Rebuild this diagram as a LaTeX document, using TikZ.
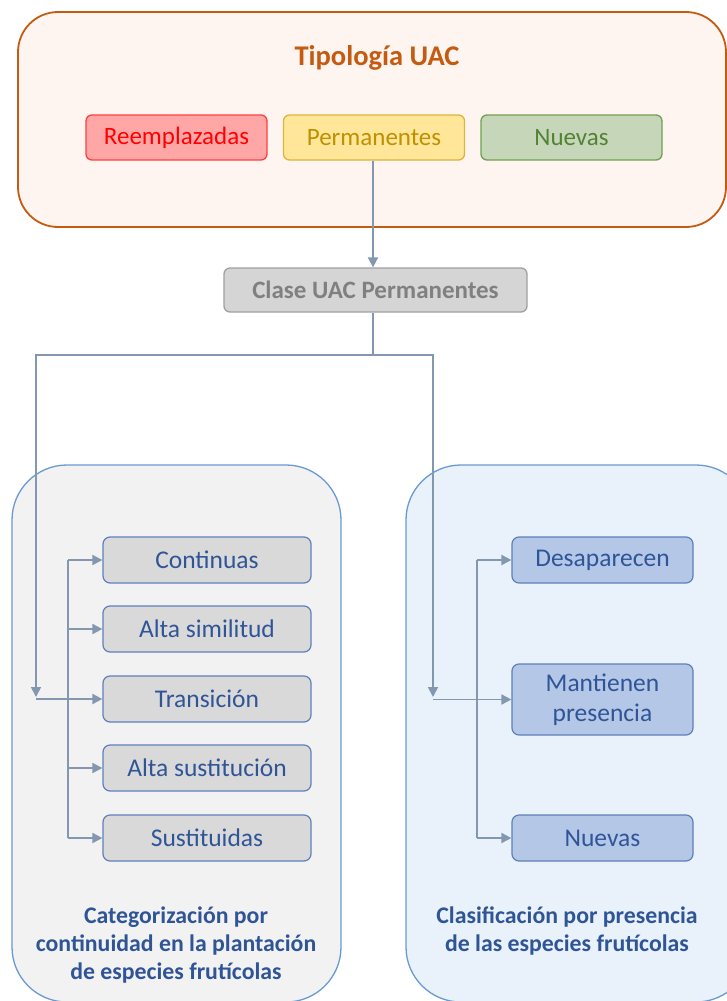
\documentclass[tikz,border=0pt]{standalone}
\usepackage{fontspec}
\setmainfont{Carlito}
\usetikzlibrary{arrows.meta}
\definecolor{topfill}{HTML}{FEF4F0}
\definecolor{topline}{HTML}{C55A11}
\definecolor{reemfill}{HTML}{FFA7A7}
\definecolor{reemline}{HTML}{FF4040}
\definecolor{reemtext}{HTML}{FF0000}
\definecolor{permfill}{HTML}{FFE699}
\definecolor{permline}{HTML}{DDB53A}
\definecolor{permtext}{HTML}{BF9000}
\definecolor{nuevfill}{HTML}{C6D6B9}
\definecolor{nuevline}{HTML}{72A052}
\definecolor{nuevtext}{HTML}{548235}
\definecolor{clasefill}{HTML}{D6D5D5}
\definecolor{claseline}{HTML}{A0A0A0}
\definecolor{clasetext}{HTML}{808080}
\definecolor{leftfill}{HTML}{F2F2F2}
\definecolor{rightfill}{HTML}{E9F1FA}
\definecolor{contline}{HTML}{6A9AD2}
\definecolor{litemfill}{HTML}{D9D9D9}
\definecolor{ritemfill}{HTML}{B4C7E7}
\definecolor{itemline}{HTML}{5F80BA}
\definecolor{itemtext}{HTML}{2F5597}
\definecolor{conncol}{HTML}{8497B0}
\begin{document}
\begin{tikzpicture}[x=1pt,y=-1pt,
  container/.style={draw=contline, line width=1.3pt, rounded corners=55pt, inner sep=0pt},
  typebox/.style={line width=1.3pt, rounded corners=6pt, minimum width=181pt, minimum height=45pt, inner sep=0pt, font=\fontsize{25}{29}\selectfont},
  item/.style={draw=itemline, line width=1.2pt, rounded corners=7pt, minimum height=46pt, inner sep=0pt, align=center, text=itemtext, font=\fontsize{25.5}{30}\selectfont},
  litem/.style={item, fill=litemfill, minimum width=208pt},
  ritem/.style={item, fill=ritemfill, minimum width=181pt},
  caption/.style={align=center, text=itemtext, font=\bfseries\fontsize{23.8}{28}\selectfont},
  conn/.style={draw=conncol, line width=1.8pt},
  arr/.style={conn, -{Triangle[length=10pt,width=10pt]}}]
\useasboundingbox (0,0) rectangle (727,1001);
% top group
\node[draw=topline, fill=topfill, line width=1.8pt, rounded corners=40pt, minimum width=708pt, minimum height=215pt, inner sep=0pt] (top) at (372,119.5) {};
\node[text=topline, font=\bfseries\fontsize{28.5}{32}\selectfont] (title) at (377,58) {Tipología UAC};
\node[typebox, draw=reemline, fill=reemfill, text=reemtext] (reem) at (176.5,137.5) {Reemplazadas};
\node[typebox, draw=permline, fill=permfill, text=permtext] (perm) at (374,137.5) {Permanentes};
\node[typebox, draw=nuevline, fill=nuevfill, text=nuevtext] (nuev) at (571.5,137.5) {Nuevas};
% class
\node[draw=claseline, fill=clasefill, line width=1.3pt, rounded corners=6pt, minimum width=303pt, minimum height=44pt, inner sep=0pt, text=clasetext, font=\bfseries\fontsize{25}{29}\selectfont] (clase) at (375.5,290) {Clase UAC Permanentes};
% containers
\node[container, fill=leftfill, minimum width=329pt, minimum height=537pt] (lcont) at (176.5,733.5) {};
\node[container, fill=rightfill, minimum width=345pt, minimum height=537pt] (rcont) at (578.5,733.5) {};
% left items
\node[litem] (cont) at (207,560) {Continuas};
\node[litem] (alsim) at (207,629) {Alta similitud};
\node[litem] (trans) at (207,699) {Transición};
\node[litem] (alsus) at (207,768) {Alta sustitución};
\node[litem] (sust) at (207,838) {Sustituidas};
% right items
\node[ritem] (desap) at (602.5,560) {Desaparecen};
\node[ritem, minimum height=71pt] (mant) at (602.5,699.5) {Mantienen\\presencia};
\node[ritem] (nuevb) at (602.5,838) {Nuevas};
% captions
\node[caption] (lcap) at (176,945) {Categorización por\\continuidad en la plantación\\de especies frutícolas};
\node[caption] (rcap) at (567,931) {Clasificación por presencia\\de las especies frutícolas};
% connectors
\coordinate (J) at (373,355);
\coordinate (L) at (36,697);
\coordinate (R) at (433,697);
\coordinate (lbt) at (68,560);
\coordinate (lbb) at (68,838);
\coordinate (rbt) at (477,560);
\coordinate (rbb) at (477,838);
\draw[arr] (perm.south -| J) -- (clase.north -| J);
\draw[conn] (clase.south -| J) -- (J);
\draw[arr] (J) -| (L);
\draw[arr] (J) -| (R);
\draw[conn] (lbt) -- (lbb);
\draw[arr] (lbt) -- (cont.west);
\draw[arr] (lbt |- alsim.west) -- (alsim.west);
\draw[arr] (L |- trans.west) -- (trans.west);
\draw[arr] (lbt |- alsus.west) -- (alsus.west);
\draw[arr] (lbb) -- (sust.west);
\draw[conn] (rbt) -- (rbb);
\draw[arr] (rbt) -- (desap.west);
\draw[arr] (R |- mant.west) -- (mant.west);
\draw[arr] (rbb) -- (nuevb.west);
\end{tikzpicture}
\end{document}
